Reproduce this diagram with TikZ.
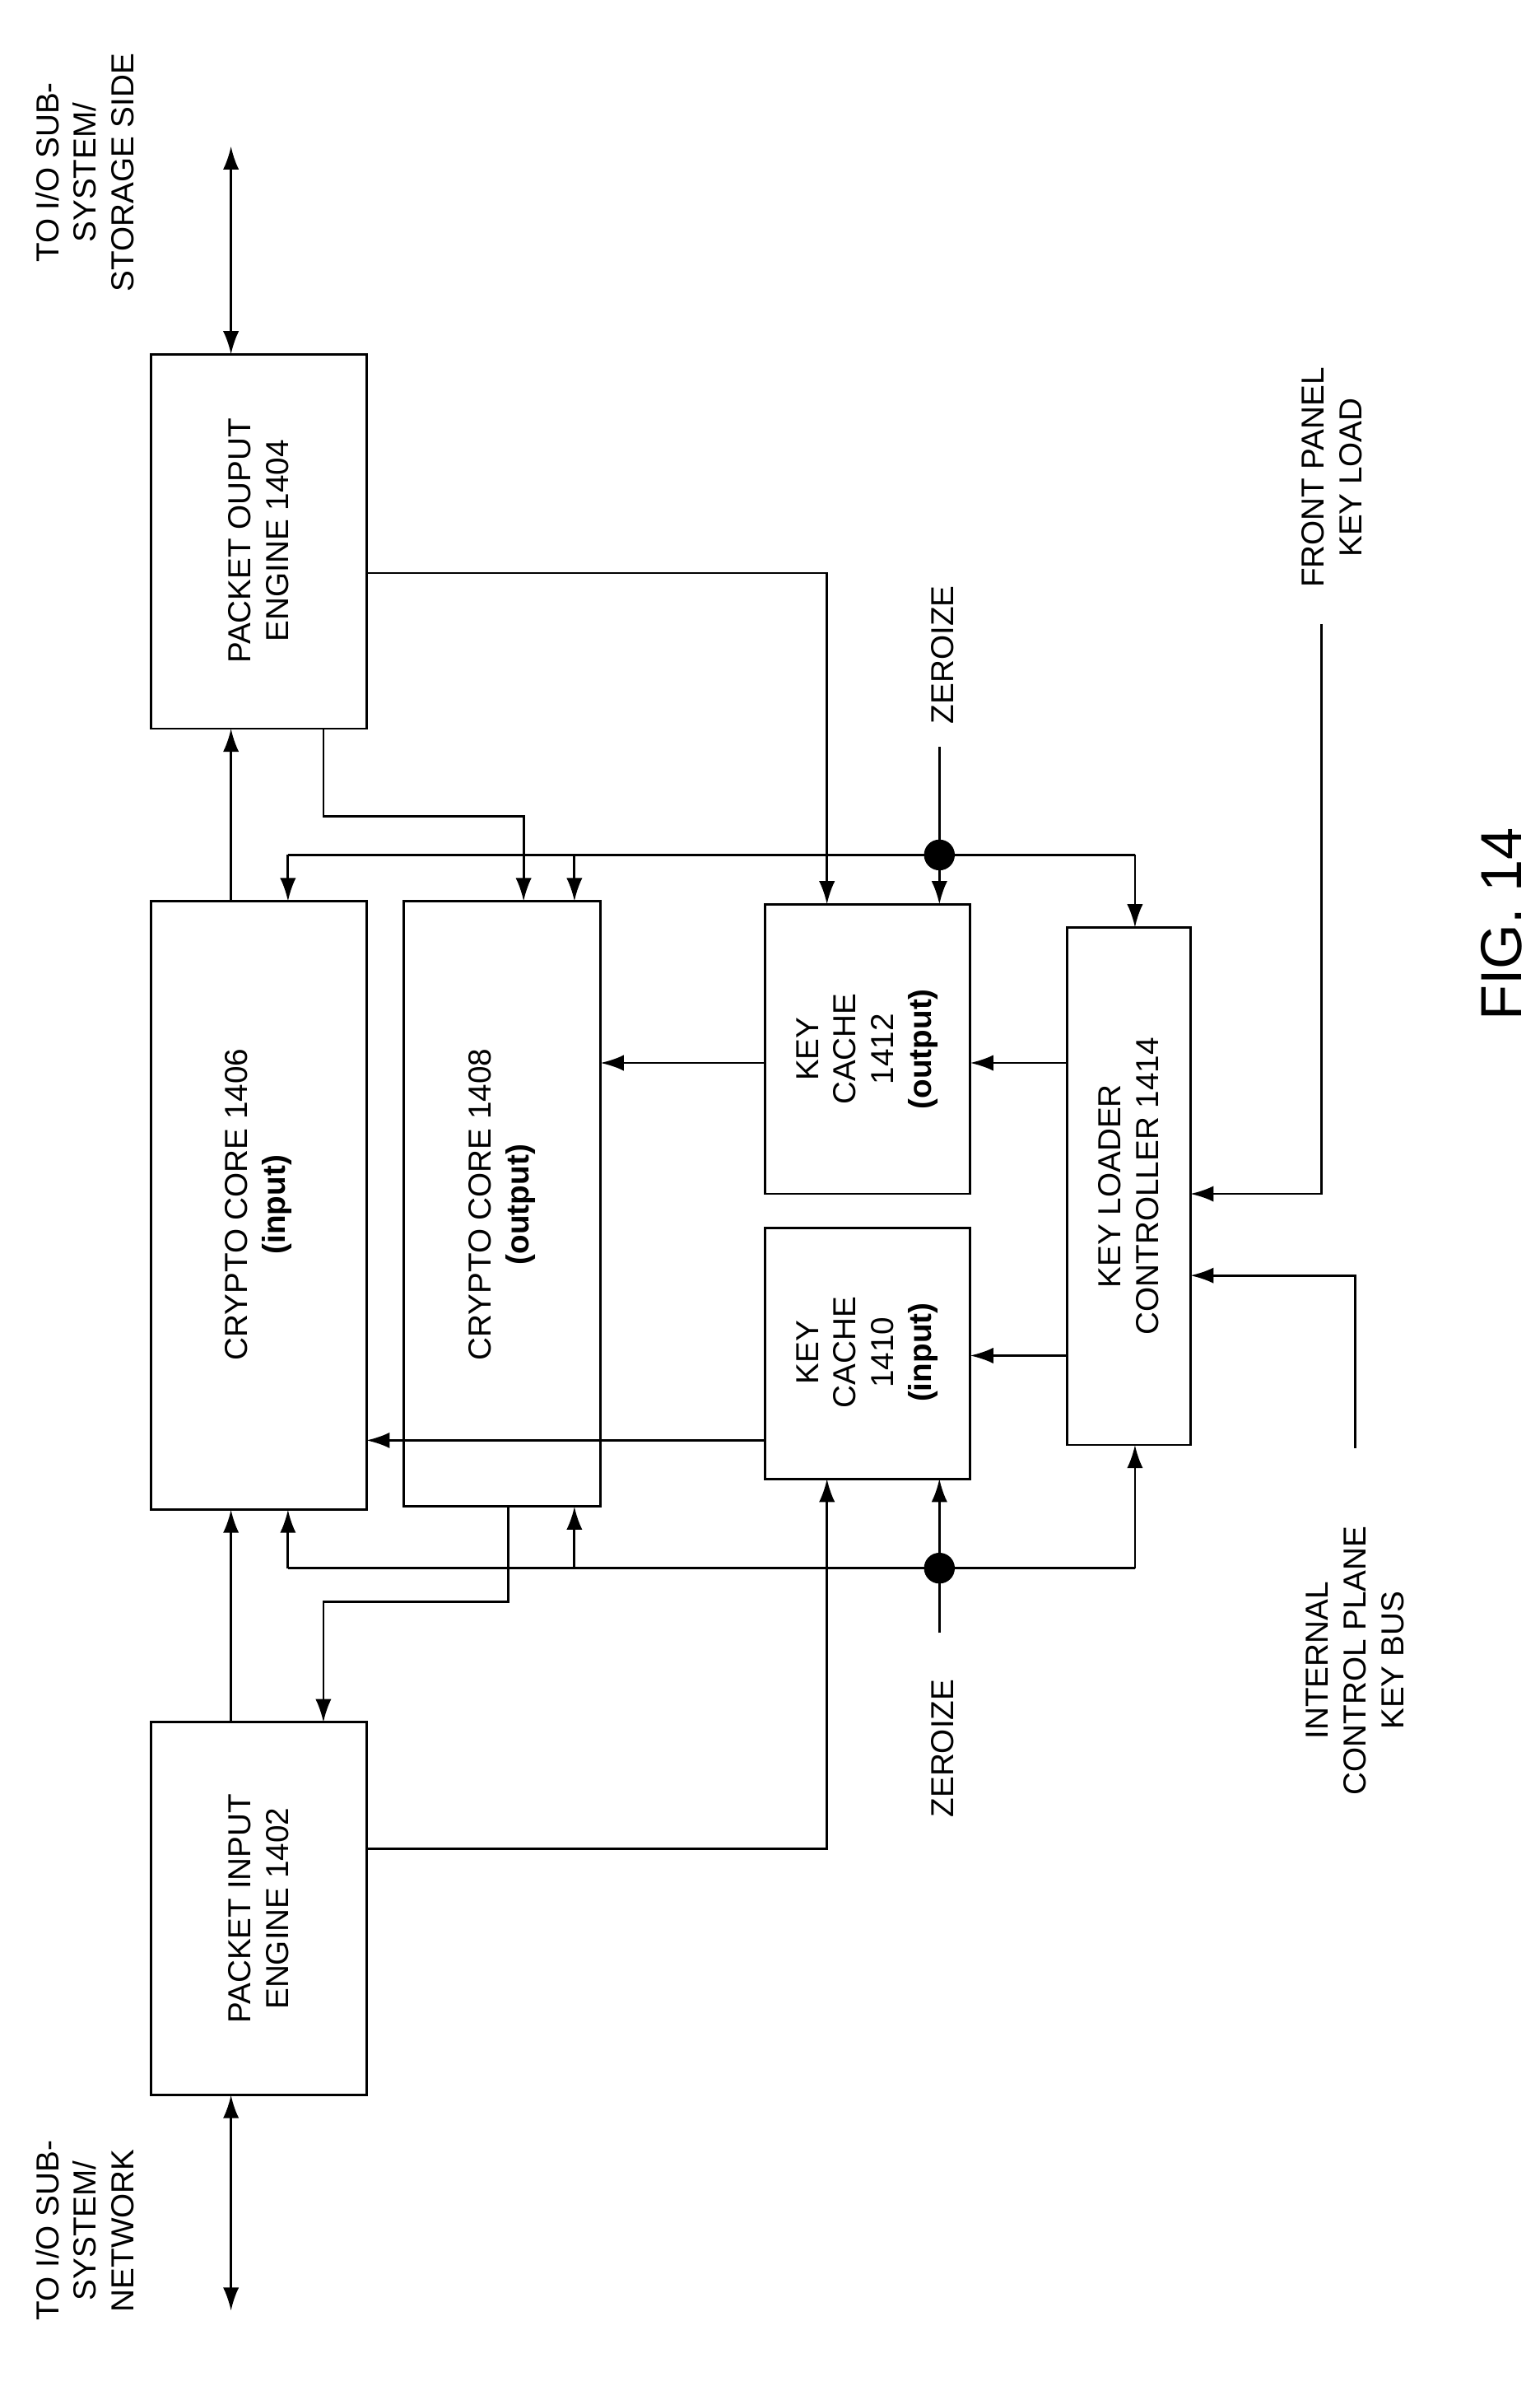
\documentclass[tikz,border=0pt]{standalone}
\usepackage{fontspec}
\setmainfont{Liberation Sans}
\usetikzlibrary{arrows.meta}
\begin{document}
\begin{tikzpicture}[x=0.0374cm,y=-0.0374cm,
  box/.style={draw,line width=1.6pt,inner sep=0pt},
  lbl/.style={rotate=90,align=center,font=\fontsize{22}{26}\selectfont},
  ln/.style={line width=1.6pt},
  ar/.style={ln,-{Latex[length=16pt,width=11pt]}},
  dar/.style={ln,{Latex[length=16pt,width=11pt]}-{Latex[length=16pt,width=11pt]}}]
\useasboundingbox (0,0) rectangle (1000,1558);
% boxes
\draw[box] (98,230) rectangle (238,473); \node[lbl] (poe) at (168,351) {PACKET OUPUT\\ENGINE 1404};
\draw[box] (98,585) rectangle (238,980); \node[lbl] (cc6) at (168,782) {CRYPTO CORE 1406\\\textbf{(input)}};
\draw[box] (262,585) rectangle (390,978); \node[lbl] (cc8) at (326,782) {CRYPTO CORE 1408\\\textbf{(output)}};
\draw[box] (98,1118) rectangle (238,1360); \node[lbl] (pie) at (168,1239) {PACKET INPUT\\ENGINE 1402};
\draw[box] (497,587) rectangle (630,775); \node[lbl] (kc2) at (563,681) {KEY\\CACHE\\1412\\\textbf{(output)}};
\draw[box] (497,797) rectangle (630,960); \node[lbl] (kc0) at (563,878) {KEY\\CACHE\\1410\\\textbf{(input)}};
\draw[box] (693,602) rectangle (773,938); \node[lbl] (klc) at (733,770) {KEY LOADER\\CONTROLLER 1414};
% labels
\node[lbl] (t1) at (55,112) {TO I/O SUB-\\SYSTEM/\\STORAGE SIDE};
\node[lbl] (t2) at (55,1448) {TO I/O SUB-\\SYSTEM/\\NETWORK};
\node[lbl] (z1) at (612,425) {ZEROIZE};
\node[lbl] (z2) at (612,1135) {ZEROIZE};
\node[lbl] (fp) at (865,310) {FRONT PANEL\\KEY LOAD};
\node[lbl] (ic) at (880,1078) {INTERNAL\\CONTROL PLANE\\KEY BUS};
\node[rotate=90,font=\fontsize{40}{44}\selectfont] (fig) at (975,600) {FIG. 14};
% connectors
\draw[dar] (150,95) -- (150,230);
\draw[dar] (150,1360) -- (150,1500);
\draw[ar] (150,585) -- (150,473);
\draw[ar] (150,1118) -- (150,980);
\draw[ar] (238,372) -- (537,372) -- (537,587);
\draw[ar] (210,473) -- (210,530) -- (340,530) -- (340,585);
\draw[ln] (610,485) -- (610,555);
\draw[ar] (610,555) -- (610,587);
\draw[ln] (187,555) -- (737,555);
\draw[ar] (187,555) -- (187,585);
\draw[ar] (373,555) -- (373,585);
\draw[ar] (737,555) -- (737,602);
\fill (610,555) circle (10);
\draw[ar] (693,690) -- (630,690);
\draw[ar] (693,880) -- (630,880);
\draw[ar] (497,690) -- (390,690);
\draw[ar] (497,935) -- (238,935);
\draw[ar] (858,405) -- (858,775) -- (773,775);
\draw[ar] (880,940) -- (880,828) -- (773,828);
\draw[ar] (330,978) -- (330,1040) -- (210,1040) -- (210,1118);
\draw[ln] (610,1060) -- (610,1018);
\draw[ar] (610,1018) -- (610,960);
\draw[ln] (187,1018) -- (737,1018);
\draw[ar] (187,1018) -- (187,980);
\draw[ar] (373,1018) -- (373,978);
\draw[ar] (737,1018) -- (737,938);
\fill (610,1018) circle (10);
\draw[ar] (238,1200) -- (537,1200) -- (537,960);
\end{tikzpicture}
\end{document}
